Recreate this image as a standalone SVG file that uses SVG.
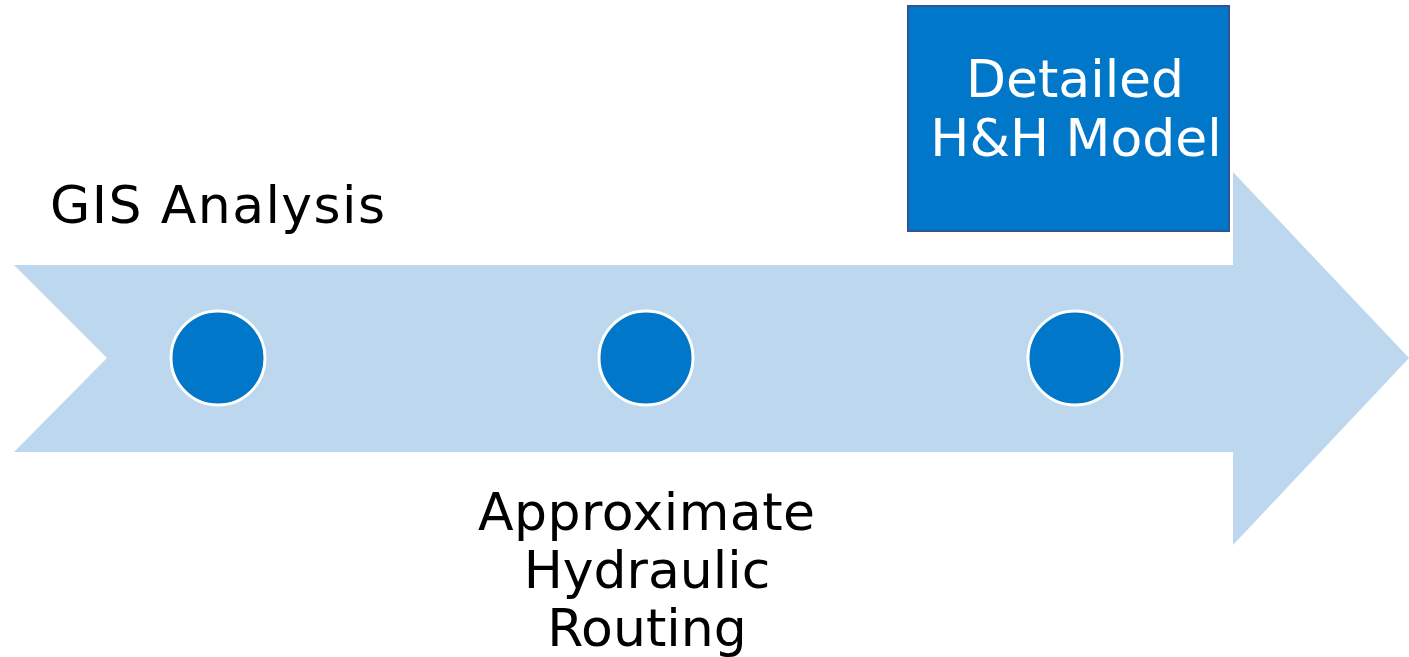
<svg xmlns="http://www.w3.org/2000/svg" width="1409" height="657" viewBox="0 0 1409 657">
<style>
.lbl{font-family:"DejaVu Sans","Verdana",sans-serif;font-size:52px;fill:#000;text-anchor:middle}
.wlbl{font-family:"DejaVu Sans","Verdana",sans-serif;font-size:52px;fill:#fff;text-anchor:middle}
.dot{fill:#0077C8;stroke:#fff;stroke-width:3}
</style>
<rect width="1409" height="657" fill="#fff"/>
<g id="arrow">
<polygon points="14,265 1233,265 1233,172 1409,358 1233,545 1233,452 14,452 107,358" fill="#BDD7EE"/>
</g>
<g id="node-gis">
<circle class="dot" cx="218" cy="358" r="47"/>
<text class="lbl" x="217.5" y="223" textLength="335" lengthAdjust="spacing">GIS Analysis</text>
</g>
<g id="node-approx">
<circle class="dot" cx="646" cy="358" r="47"/>
<text class="lbl" x="646.5" y="530" textLength="337" lengthAdjust="spacing">Approximate</text>
<text class="lbl" x="647" y="588">Hydraulic</text>
<text class="lbl" x="647" y="646">Routing</text>
</g>
<g id="node-detailed">
<circle class="dot" cx="1075" cy="358" r="47"/>
<rect x="908" y="6" width="321" height="225" fill="#0077C8" stroke="#2F5597" stroke-width="2"/>
<text class="wlbl" x="1075" y="97">Detailed</text>
<text class="wlbl" x="1076" y="156">H&amp;H Model</text>
</g>
<g id="connectors"></g>
</svg>
